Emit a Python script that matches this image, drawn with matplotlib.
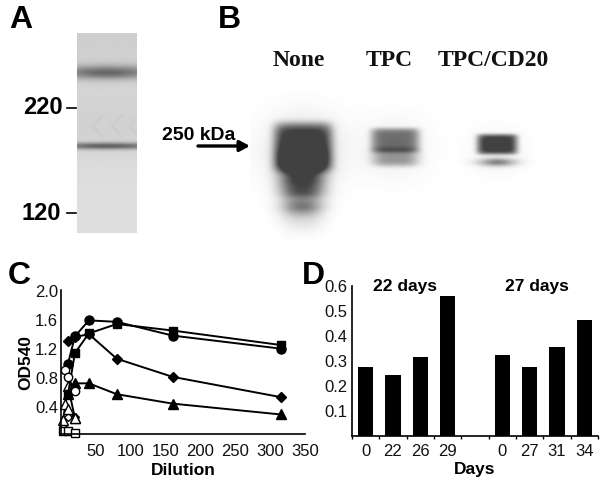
import numpy as np
import matplotlib
matplotlib.use("Agg")
import matplotlib.pyplot as plt

W, H = 607, 483
plt.rcParams['font.family'] = ['Liberation Sans', 'DejaVu Sans']

# Panel C values
x_filled = [10, 20, 40, 80, 160, 315]
y_filled_circle = [1.00, 1.38, 1.60, 1.58, 1.39, 1.21]
y_filled_square = [0.58, 1.15, 1.42, 1.55, 1.46, 1.26]
y_filled_diamond = [1.31, 1.37, 1.41, 1.07, 0.82, 0.54]
y_filled_triangle = [0.58, 0.73, 0.73, 0.58, 0.45, 0.30]
x_open = [6, 10, 20]
x_open_low = [3, 10, 20]
y_open_circle = [0.92, 0.82, 0.62]
y_open_triangle = [0.45, 0.38, 0.25]
y_open_triangle2 = [0.22, 0.69, 0.25]
y_open_diamond = [0.16, 0.27, 0.27]
y_open_square = [0.07, 0.07, 0.05]
c_xticks = [50, 100, 150, 200, 250, 300, 350]
c_yticks = [0.4, 0.8, 1.2, 1.6, 2.0]

# Panel D values
d_labels = ['0', '22', '26', '29', '', '0', '27', '31', '34']
d_values = [0.275, 0.245, 0.315, 0.56, 0, 0.325, 0.275, 0.355, 0.465]
d_yticks = [0.1, 0.2, 0.3, 0.4, 0.5, 0.6]

fig = plt.figure(figsize=(W / 100, H / 100), dpi=100)


def px_axes(l, t, r, b, **kw):
    return fig.add_axes([l / W, 1 - b / H, (r - l) / W, (b - t) / H], **kw)


def blob(X, Y, cx, cy, sx, sy, amp, p=4):
    return amp * np.exp(-(np.abs((X - cx) / sx) ** p + np.abs((Y - cy) / sy) ** p))


# Overlay in pixel coordinates
ov = px_axes(0, 0, W, H)
ov.set_zorder(5)
ov.patch.set_alpha(0)
ov.axis('off')

# Panel A gel
xa, ya = np.meshgrid(np.arange(77, 137.5, 0.5), np.arange(33, 233.5, 0.5))
dA = 0.13 + 0.06 * np.exp(-((ya - 33) / 70) ** 2) + 0.04 * np.exp(-((ya - 130) / 30) ** 2)
dA += blob(xa, ya, 107, 72, 60, 7, 0.36, 2) + blob(xa, ya, 107, 74, 30, 5, 0.07, 2)
dA += blob(xa, ya, 107, 146, 60, 3.4, 0.46, 2)
for cx in (93, 112, 130):
    dA += 0.025 * np.exp(-((np.abs(ya - 126) * 0.9 + cx - xa) / 1.6) ** 2) * (np.abs(ya - 126) < 12)
ov.imshow(1 - dA, extent=(77, 137, 233, 33), cmap='gray', vmin=0, vmax=1, aspect='auto', zorder=1)

# Panel B blots
xb, yb = np.meshgrid(np.arange(250, 540, 0.5), np.arange(90, 240, 0.5))
dB = blob(xb, yb, 303, 147, 29, 24, 0.72, 6)
dB += blob(xb, yb, 302, 170, 23, 24, 0.58, 3)
dB += blob(xb, yb, 302, 193, 20, 5, 0.12, 2) + blob(xb, yb, 302, 207, 19, 7, 0.24, 2)
dB += blob(xb, yb, 302, 198, 21, 26, 0.28, 2.5)
dB += blob(xb, yb, 303, 150, 38, 34, 0.14, 2)
dB += blob(xb, yb, 395, 140, 24, 12, 0.52, 6) + blob(xb, yb, 395, 157, 23, 9, 0.36, 4)
dB += blob(xb, yb, 395, 148, 32, 30, 0.06, 2)
dB += blob(xb, yb, 497, 144, 20, 10, 0.76, 6) + blob(xb, yb, 497, 162, 18, 4, 0.45, 2)
dB += blob(xb, yb, 497, 150, 26, 22, 0.05, 2)
ov.imshow(1 - np.clip(dB, 0, 0.74), extent=(250, 540, 240, 90), cmap='gray', vmin=0, vmax=1,
          aspect='auto', zorder=1)
ov.set_xlim(0, W)
ov.set_ylim(H, 0)

for s, x, y in [('A', 21, 20), ('B', 229, 20), ('C', 19, 276), ('D', 313, 276)]:
    ov.text(x, y, s, fontsize=23, fontweight='bold', ha='center', va='center', color='black')
for s, x in [('None', 299), ('TPC', 389), ('TPC/CD20', 493)]:
    ov.text(x, 61, s, fontsize=17, fontweight='bold', family='Liberation Serif', ha='center',
            va='center', color='#111111')
ov.text(43, 108, '220', fontsize=17, fontweight='bold', ha='center', va='center')
ov.text(41, 214, '120', fontsize=17, fontweight='bold', ha='center', va='center')
ov.plot([67, 76], [108, 108], color='black', lw=1.2)
ov.plot([67, 76], [213, 213], color='black', lw=1.2)
ov.text(198.5, 135, '250 kDa', fontsize=14, fontweight='bold', ha='center', va='center')
ov.annotate('', xy=(250, 146), xytext=(198, 146),
            arrowprops=dict(arrowstyle='-|>,head_width=0.32,head_length=0.6', color='black', lw=2.4,
                            shrinkA=0, shrinkB=0))
ov.text(405, 286, '22 days', fontsize=12.5, fontweight='bold', ha='center', va='center')
ov.text(537, 286, '27 days', fontsize=12.5, fontweight='bold', ha='center', va='center')

# Panel C
axc = px_axes(61, 290, 305, 434)
axc.set_xlim(0, 345)
axc.set_ylim(0.03, 2.02)
styles = [(x_open_low, y_open_diamond, 'D', 'white', 4.5),
          (x_open_low, y_open_triangle2, '^', 'white', 6.5),
          (x_open, y_open_triangle, '^', 'white', 6.5),
          (x_open_low, y_open_square, 's', 'white', 6),
          (x_filled, y_filled_triangle, '^', 'black', 6.5),
          (x_filled, y_filled_diamond, 'D', 'black', 5),
          (x_filled, y_filled_circle, 'o', 'black', 6.5),
          (x_filled, y_filled_square, 's', 'black', 6),
          (x_open, y_open_circle, 'o', 'white', 6)]
for xs, ys, m, fc, ms in styles:
    axc.plot(xs, ys, color='black', lw=1.4, marker=m, mfc=fc, mec='black', mew=1.0, ms=ms, clip_on=False)
axc.set_xticks(c_xticks)
axc.set_yticks(c_yticks)
axc.set_yticklabels([f'{v:.1f}' for v in c_yticks])
axc.tick_params(length=0, labelsize=12, pad=2, colors='#111111')
axc.tick_params(axis='x', pad=7)
for s in ('top', 'right'):
    axc.spines[s].set_visible(False)
for s in ('left', 'bottom'):
    axc.spines[s].set_linewidth(1.2)
axc.set_xlabel('Dilution', fontsize=12.5, fontweight='bold', labelpad=3)
axc.set_ylabel('OD540', fontsize=12.5, fontweight='bold', labelpad=1)

# Panel D
axd = px_axes(352, 286, 598, 436)
axd.bar(range(len(d_values)), d_values, width=0.57, color='black')
axd.set_xlim(-0.5, 8.5)
axd.set_ylim(0, 0.6)
axd.set_xticks(np.arange(-0.5, 9, 1))
axd.set_xticklabels([])
axd.set_xticks(range(len(d_labels)), labels=d_labels, minor=True)
axd.tick_params(axis='x', which='minor', length=0, labelsize=12, pad=6, colors='#111111')
axd.tick_params(axis='x', which='major', length=2, width=1)
axd.set_yticks(d_yticks)
axd.set_yticklabels([f'{v:.1f}' for v in d_yticks])
axd.tick_params(axis='y', length=0, labelsize=12, pad=3, colors='#111111')
for s in ('top', 'right'):
    axd.spines[s].set_visible(False)
for s in ('left', 'bottom'):
    axd.spines[s].set_linewidth(1.2)
axd.set_xlabel('Days', fontsize=12.5, fontweight='bold', labelpad=2)

fig.savefig('out.png', dpi=100)
